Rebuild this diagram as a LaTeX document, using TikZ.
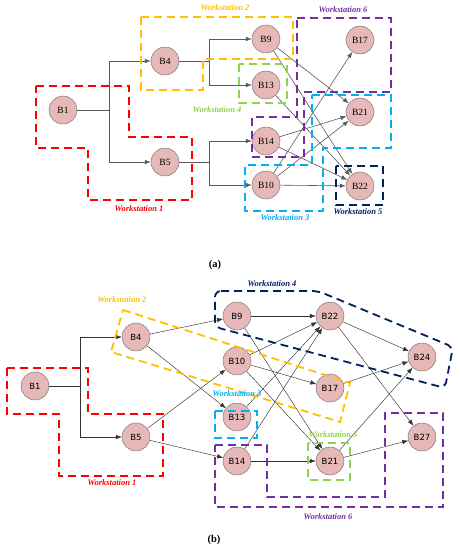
\documentclass[tikz,border=0pt]{standalone}
\usepackage{fontspec}
\setmainfont{Liberation Serif}
\newfontfamily\dejavu{DejaVu Sans}
\usetikzlibrary{arrows.meta}
\definecolor{jobpink}{HTML}{E6B8B7}
\definecolor{wsred}{HTML}{FF0000}
\definecolor{wsorange}{HTML}{FFC000}
\definecolor{wsgreen}{HTML}{92D050}
\definecolor{wspurple}{HTML}{7030A0}
\definecolor{wsblue}{HTML}{00B0F0}
\definecolor{wsnavy}{HTML}{002060}

\begin{document}
\begin{tikzpicture}[x=1pt,y=-1pt,>={Latex[length=6pt,width=4.5pt]}]
				\tikzstyle{job}=[circle,draw=black!60,fill=jobpink,minimum size=28pt,inner sep=0pt,
				font=\fontsize{9.5}{10}\selectfont]
				\tikzstyle{jobb}=[job,font=\dejavu\fontsize{8.5}{10}\selectfont]
				\tikzstyle{link}=[draw=black!65,line width=0.6pt]
				\tikzstyle{linkb}=[draw=black!80,line width=0.45pt]
				\tikzstyle{ws}=[line width=1.8pt,dash pattern=on 8pt off 5pt]
				\tikzstyle{wslabel}=[font=\bfseries\itshape\fontsize{8.5}{10}\selectfont]
				\useasboundingbox (0,0) rectangle (460,550);
				% (a)
				\node[job] (a1) at (63,110) {B1};
				\node[job] (a4) at (165,61) {B4};
				\node[job] (a5) at (165,162) {B5};
				\node[job] (a9) at (266,39) {B9};
				\node[job] (a13) at (266,85) {B13};
				\node[job] (a14) at (266,141) {B14};
				\node[job] (a10) at (266,185) {B10};
				\node[job] (a17) at (360,40) {B17};
				\node[job] (a21) at (360,112) {B21};
				\node[job] (a22) at (360,186) {B22};
				\coordinate (ja) at (109,110);
				\coordinate (jb) at (209,61);
				\coordinate (jc) at (209,162);
				\draw[link] (a1) -- (ja);
				\draw[link,->] (ja) |- (a4);
				\draw[link,->] (ja) |- (a5);
				\draw[link] (a4) -- (jb);
				\draw[link,->] (jb) |- (a9);
				\draw[link,->] (jb) |- (a13);
				\draw[link] (a5) -- (jc);
				\draw[link,->] (jc) |- (a14);
				\draw[link,->] (jc) |- (a10);
				\draw[link,->] (a9) -- (a21);
				\draw[link,->] (a9) -- (a22);
				\draw[link,->] (a13) -- (a22);
				\draw[link,->] (a14) -- (a21);
				\draw[link,->] (a14) -- (a22);
				\draw[link,->] (a10) -- (a17);
				\draw[link,->] (a10) -- (a21);
				\draw[link,->] (a10) -- (a22);
				% workstations (a)
				\draw[ws,wsred] (36,86) -- (129,86) -- (129,137) -- (192,137) -- (192,200)
					-- (88,200) -- (88,148) -- (36,148) -- cycle;
				\draw[ws,wsorange] (141,17) -- (293,17) -- (293,59) -- (203,59) -- (203,90)
					-- (141,90) -- cycle;
				\draw[ws,wsgreen] (239,64) rectangle (287,103);
				\draw[ws,wspurple] (297,18) -- (391,18) -- (391,92) -- (304,92) -- (304,157)
					-- (252,157) -- (252,117) -- (297,117) -- cycle;
				\draw[ws,wsblue] (312,95) -- (391,95) -- (391,148) -- (323,148) -- (323,211)
					-- (245,211) -- (245,165) -- (312,165) -- cycle;
				\draw[ws,wsnavy] (336,166) rectangle (383,205);
				\node[wslabel,wsred] (la1) at (139,209) {Workstation 1};
				\node[wslabel,wsorange] (la2) at (225,8) {Workstation 2};
				\node[wslabel,wsblue] (la3) at (285,218) {Workstation 3};
				\node[wslabel,wsgreen] (la4) at (217,110) {Workstation 4};
				\node[wslabel,wsnavy] (la5) at (358,212) {Workstation 5};
				\node[wslabel,wspurple] (la6) at (343,10) {Workstation 6};
				\node[font=\bfseries\fontsize{10.5}{12}\selectfont] (capa) at (215,265) {(a)};
				% (b)
				\node[jobb] (b1) at (35,386) {B1};
				\node[jobb] (b4) at (136,337) {B4};
				\node[jobb] (b5) at (136,437) {B5};
				\node[jobb] (b9) at (237,316) {B9};
				\node[jobb] (b10) at (237,361) {B10};
				\node[jobb] (b13) at (237,417) {B13};
				\node[jobb] (b14) at (237,461) {B14};
				\node[jobb] (b22) at (330,316) {B22};
				\node[jobb] (b17) at (330,388) {B17};
				\node[jobb] (b21) at (330,461) {B21};
				\node[jobb] (b24) at (422,357) {B24};
				\node[jobb] (b27) at (422,437) {B27};
				\coordinate (jd) at (80,386);
				\draw[linkb] (b1) -- (jd);
				\draw[linkb,->] (jd) |- (b4);
				\draw[linkb,->] (jd) |- (b5);
				\draw[linkb,->] (b4) -- (b9);
				\draw[linkb,->] (b4) -- (b13);
				\draw[linkb,->] (b5) -- (b10);
				\draw[linkb,->] (b5) -- (b14);
				\draw[linkb,->] (b9) -- (b22);
				\draw[linkb,->] (b9) -- (b21);
				\draw[linkb,->] (b10) -- (b22);
				\draw[linkb,->] (b10) -- (b17);
				\draw[linkb,->] (b10) -- (b21);
				\draw[linkb,->] (b13) -- (b22);
				\draw[linkb,->] (b14) -- (b22);
				\draw[linkb,->] (b14) -- (b21);
				\draw[linkb,->] (b22) -- (b24);
				\draw[linkb,->] (b22) -- (b27);
				\draw[linkb,->] (b17) -- (b24);
				\draw[linkb,->] (b21) -- (b24);
				\draw[linkb,->] (b21) -- (b27);
				% workstations (b)
				\draw[ws,wsred] (7,368) -- (88,368) -- (88,414) -- (163,414) -- (163,476)
					-- (59,476) -- (59,414) -- (7,414) -- cycle;
				\draw[ws,wsorange] (123,310) -- (350,383) -- (340,422) -- (111,352) -- cycle;
				\draw[ws,wsblue] (215,411) rectangle (257,438);
				\draw[ws,wsnavy,rounded corners=6pt] (215,291) -- (318,291) -- (453,347)
					-- (445,388) -- (215,327) -- cycle;
				\draw[ws,wsgreen] (308,443) rectangle (350,480);
				\draw[ws,wspurple] (215,445) -- (267,445) -- (267,497) -- (385,497) -- (385,413)
					-- (443,413) -- (443,507) -- (215,507) -- cycle;
				\node[wslabel,wsred] (lb1) at (112,483) {Workstation 1};
				\node[wslabel,wsorange] (lb2) at (122,300) {Workstation 2};
				\node[wslabel,wsblue] (lb3) at (237,394) {Workstation 3};
				\node[wslabel,wsnavy] (lb4) at (272,284) {Workstation 4};
				\node[wslabel,wsgreen] (lb5) at (333,435) {Workstation 5};
				\node[wslabel,wspurple] (lb6) at (328,517) {Workstation 6};
				\node[font=\bfseries\fontsize{10.5}{12}\selectfont] (capb) at (214,540) {(b)};
				\end{tikzpicture}
\end{document}
